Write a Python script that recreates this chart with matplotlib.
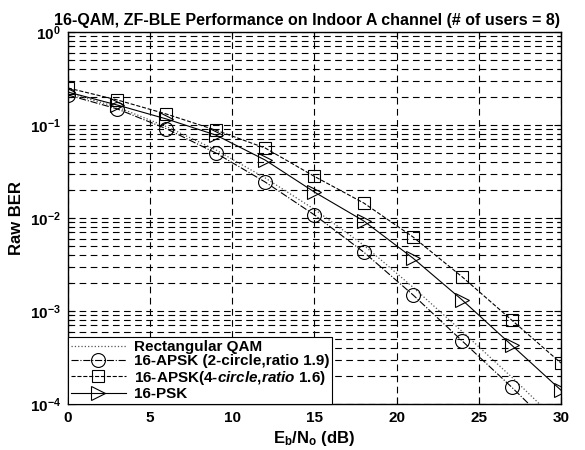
import numpy as np
import matplotlib
matplotlib.use('Agg')
import matplotlib.pyplot as plt
from matplotlib.ticker import LogLocator, NullFormatter

plt.rcParams['font.family'] = ['Liberation Sans', 'DejaVu Sans']
plt.rcParams['font.weight'] = 'bold'
plt.rcParams['mathtext.fontset'] = 'custom'
plt.rcParams['mathtext.rm'] = 'Liberation Sans:bold'
plt.rcParams['mathtext.bf'] = 'Liberation Sans:bold'
plt.rcParams['mathtext.it'] = 'Liberation Sans:bold:italic'

# Eb/No points (dB)
snr = [0, 3, 6, 9, 12, 15, 18, 21, 24, 27, 30]

# raw BER values
ber_rect_qam = [0.22, 0.156, 0.096, 0.054, 0.027, 0.0124, 0.0051, 0.0018, 6.0e-4, 1.95e-4, 6.0e-5]
ber_apsk_2c = [0.21, 0.149, 0.091, 0.050, 0.0244, 0.0108, 0.0043, 0.00149, 4.75e-4, 1.52e-4, 4.6e-5]
ber_apsk_4c = [0.25, 0.186, 0.131, 0.088, 0.0566, 0.028, 0.0145, 0.00625, 0.00232, 8.0e-4, 2.76e-4]
ber_psk = [0.226, 0.164, 0.116, 0.078, 0.042, 0.019, 0.0093, 0.0037, 0.00131, 4.3e-4, 1.41e-4]

labels = ['Rectangular QAM', '16-APSK (2-circle,ratio 1.9)',
          r'16-APSK(4-$\mathit{circle}$,$\mathit{ratio}$ 1.6)', '16-PSK']

fig = plt.figure(figsize=(5.85, 4.5), dpi=100)
ax = fig.add_axes([0.116, 0.102, 0.843, 0.827])

ax.semilogy(snr, ber_rect_qam, color='#555555', linestyle=':', linewidth=0.9, label=labels[0])
ax.semilogy(snr, ber_apsk_2c, color='black', linestyle='-.', linewidth=0.8, marker='o',
            markersize=10, markerfacecolor='none', markeredgewidth=0.8, label=labels[1])
ax.semilogy(snr, ber_apsk_4c, color='black', linestyle='--', linewidth=0.8, marker='s',
            markersize=9, markerfacecolor='none', markeredgewidth=0.8, label=labels[2])
ax.semilogy(snr, ber_psk, color='black', linestyle='-', linewidth=0.8, marker='>',
            markersize=10, markerfacecolor='none', markeredgewidth=0.8, label=labels[3])

ax.set_xlim(0, 30)
ax.set_ylim(1e-4, 1)
ax.set_xticks([0, 5, 10, 15, 20, 25, 30])
ax.set_xticklabels(['0', '5', '10', '15', '20', '25', '30'], fontsize=11, fontweight='bold')
ax.set_yticks([1e-4, 1e-3, 1e-2, 1e-1, 1])
ax.set_yticklabels([r'$10^{-4}$', r'$10^{-3}$', r'$10^{-2}$', r'$10^{-1}$', r'$10^{0}$'],
                   fontsize=11, fontweight='bold')
ax.yaxis.set_minor_locator(LogLocator(base=10, subs=np.arange(2, 10), numticks=20))
ax.yaxis.set_minor_formatter(NullFormatter())
ax.tick_params(which='both', direction='in', top=True, right=True, width=0.8)
ax.tick_params(which='major', length=5, pad=5)
ax.tick_params(which='minor', length=3)

ax.grid(True, which='major', axis='x', color='black', linestyle=(0, (6, 4)), linewidth=0.8)
ax.grid(True, which='both', axis='y', color='black', linestyle=(0, (6, 4)), linewidth=0.8)
for s in ax.spines.values():
    s.set_linewidth(1.0)

fig.text(0.525, 0.945, '16-QAM, ZF-BLE Performance on Indoor A channel (# of users = 8)',
         fontsize=11.5, fontweight='bold', ha='center', va='baseline')
ax.set_xlabel(r'E$_\mathrm{b}$/N$_\mathrm{o}$ (dB)', fontsize=12, fontweight='bold', labelpad=3)
ax.set_ylabel('Raw BER', fontsize=12, fontweight='bold')

leg = ax.legend(loc='lower left', fontsize=11, frameon=True, fancybox=False,
                edgecolor='black', framealpha=1, borderaxespad=0, handlelength=3.6,
                borderpad=0.2, labelspacing=0.02, handletextpad=0.5)
leg.get_frame().set_linewidth(0.8)
for t in leg.get_texts():
    t.set_fontweight('bold')

fig.savefig('out.png', dpi=100)
